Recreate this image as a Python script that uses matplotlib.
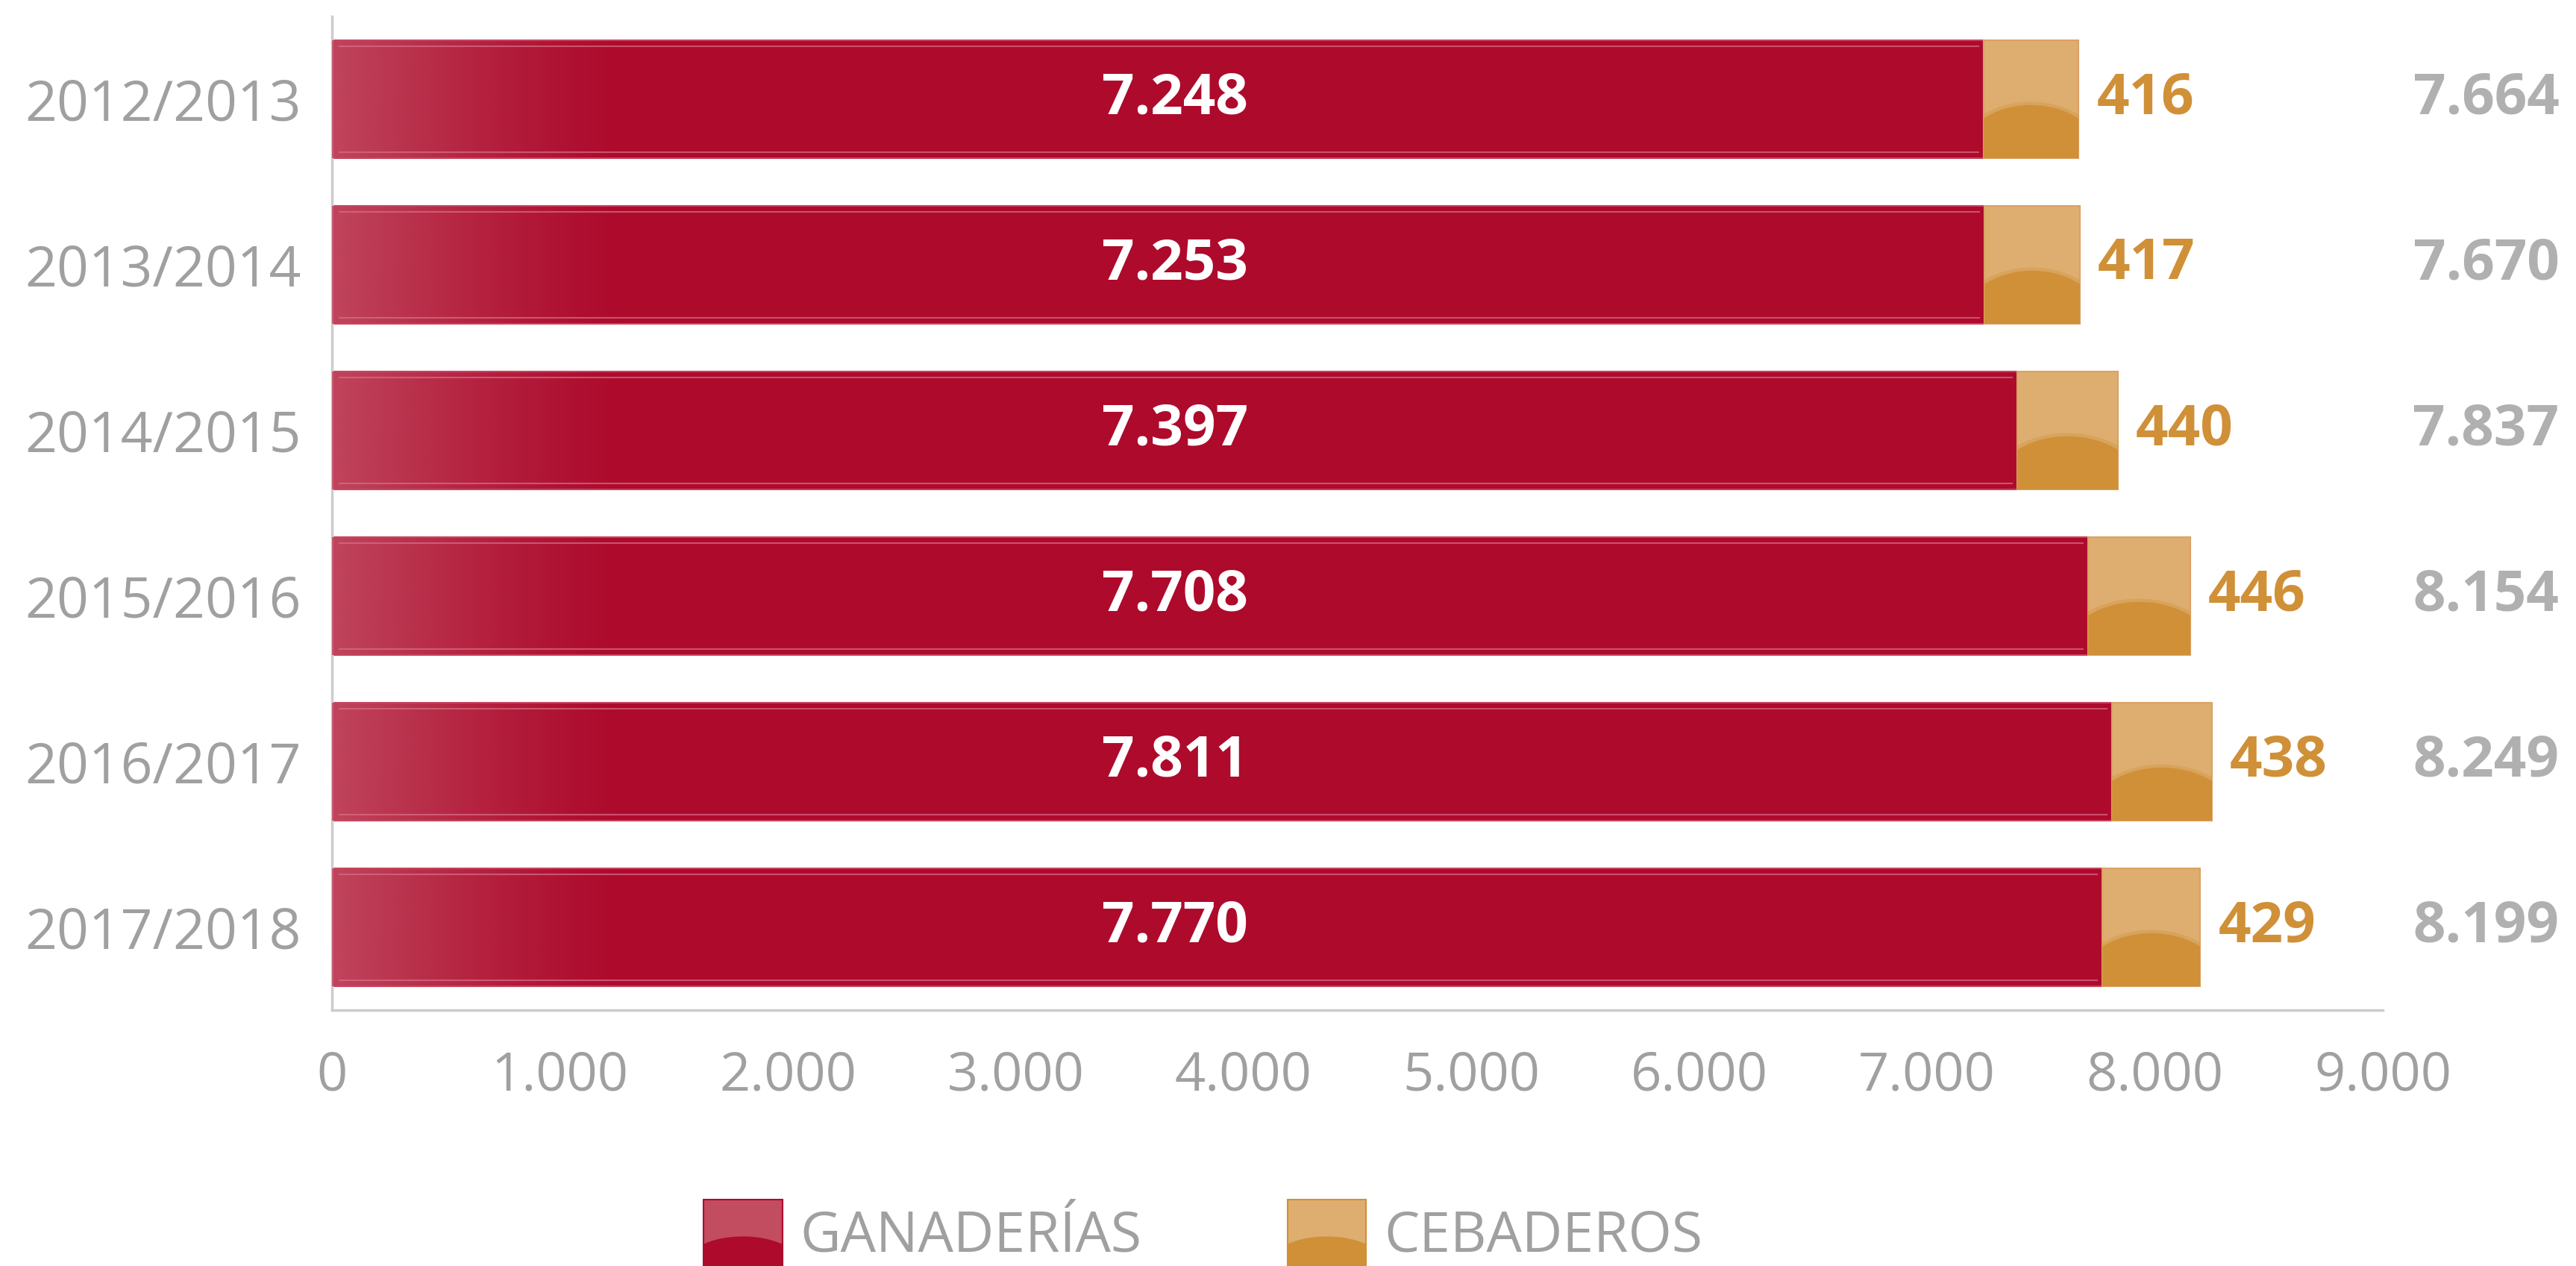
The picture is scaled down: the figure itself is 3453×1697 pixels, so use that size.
import numpy as np
import matplotlib
matplotlib.use("Agg")
from matplotlib import pyplot as plt
from matplotlib.patches import Rectangle, Ellipse, Patch
from matplotlib.legend_handler import HandlerBase
from matplotlib.colors import to_rgb

plt.rcParams['font.family'] = ['Open Sans', 'DejaVu Sans']

# data
campanas = ['2012/2013', '2013/2014', '2014/2015', '2015/2016', '2016/2017', '2017/2018']
ganaderias = [7248, 7253, 7397, 7708, 7811, 7770]
cebaderos = [416, 417, 440, 446, 438, 429]
totales = [7664, 7670, 7837, 8154, 8249, 8199]
xticks = [0, 1000, 2000, 3000, 4000, 5000, 6000, 7000, 8000, 9000]
xticklabels = ['0', '1.000', '2.000', '3.000', '4.000', '5.000', '6.000', '7.000', '8.000', '9.000']

ROJO = '#AD0A2C'
ROJO_CLARO = '#C24C62'
NARANJA = '#D09038'
NARANJA_CLARO = '#DDAE6F'
GRIS = '#A0A0A0'
GRIS_TOT = '#B0B0B0'

def fmt(v):
    return f'{v:,}'.replace(',', '.')

fig = plt.figure(figsize=(34.53, 16.97), dpi=100)
ax = fig.add_axes([0.1289, 0.2021, 0.7961, 0.7850])

y = np.arange(len(campanas))
h = 0.71

bars_r = ax.barh(y, ganaderias, height=h, color=ROJO, edgecolor='#C8405C', linewidth=1.5, zorder=2)
bars_o = ax.barh(y, cebaderos, left=ganaderias, height=h, color=NARANJA_CLARO,
                 edgecolor='#DBA263', linewidth=1.5, zorder=2)

# brillo a la izquierda de las barras rojas
light = np.array(to_rgb(ROJO_CLARO))
for i, b in enumerate(bars_r):
    n = 300
    t = np.linspace(0, 1, n)
    img = np.zeros((1, n, 4))
    img[..., :3] = light
    img[..., 3] = (1 - t) ** 1.3 * 0.9
    im = ax.imshow(img, extent=(0, 1300, y[i] + h / 2, y[i] - h / 2), aspect='auto',
                   interpolation='bilinear', zorder=3)
    im.set_clip_path(b)
    ax.hlines([y[i] - h / 2 + 0.035, y[i] + h / 2 - 0.035], 30, ganaderias[i] - 20,
              color='#D8708A', lw=1.5, alpha=0.7, zorder=4)

# burbuja inferior de las barras naranjas
for i, b in enumerate(bars_o):
    cx = ganaderias[i] + cebaderos[i] / 2
    for k, (sc, al) in enumerate([(1.06, 0.35), (1.0, 1.0)]):
        e = Ellipse((cx, y[i] + h / 2), width=cebaderos[i] * 1.5 * sc, height=h * 0.9 * sc,
                    facecolor=NARANJA, edgecolor='none', alpha=al, zorder=3)
        ax.add_patch(e)
        e.set_clip_path(b)

# etiquetas
for i in range(len(campanas)):
    ax.text(3700, y[i], fmt(ganaderias[i]), color='white', fontsize=55, fontweight='bold',
            ha='center', va='center', zorder=5)
    ax.text(totales[i] + 80, y[i], fmt(cebaderos[i]), color=NARANJA, fontsize=55,
            fontweight='bold', ha='left', va='center', zorder=5)
    ax.text(1.086, y[i], fmt(totales[i]), color=GRIS_TOT, fontsize=55, fontweight='bold',
            ha='right', va='center', transform=ax.get_yaxis_transform(), clip_on=False)

ax.set_xlim(0, 9000)
ax.set_ylim(len(campanas) - 0.5, -0.5)
ax.set_yticks(y)
ax.set_yticklabels(campanas)
ax.set_xticks(xticks)
ax.set_xticklabels(xticklabels)
ax.tick_params(axis='both', length=0, colors=GRIS, labelsize=52)
ax.tick_params(axis='y', pad=30, labelsize=54)
ax.tick_params(axis='x', pad=38)
for s in ['top', 'right']:
    ax.spines[s].set_visible(False)
for s in ['left', 'bottom']:
    ax.spines[s].set_color('#CCCCCC')
    ax.spines[s].set_linewidth(2.5)


class GlossHandler(HandlerBase):
    def __init__(self, top, bottom):
        super().__init__()
        self.top = top
        self.bottom = bottom

    def create_artists(self, legend, orig_handle, xdescent, ydescent, width, height, fontsize, trans):
        r = Rectangle((-xdescent, -ydescent), width, height, facecolor=self.top,
                      edgecolor=self.bottom, lw=1.5, transform=trans)
        e = Ellipse((-xdescent + width / 2, -ydescent), width * 1.5, height * 0.9,
                    facecolor=self.bottom, edgecolor='none', transform=trans)
        e.set_clip_path(r)
        return [r, e]


h1 = Patch(color=ROJO)
h2 = Patch(color=NARANJA)
leg = fig.legend([h1, h2], ['GANADERÍAS', 'CEBADEROS'], loc='center',
                 bbox_to_anchor=(0.467, 0.026), ncol=2, frameon=False, fontsize=54,
                 handlelength=1.41, handleheight=1.47, handletextpad=0.32, columnspacing=2.6,
                 handler_map={h1: GlossHandler('#C24C60', ROJO),
                              h2: GlossHandler(NARANJA_CLARO, NARANJA)})
for t in leg.get_texts():
    t.set_color(GRIS)

fig.savefig('out.png', dpi=100)
